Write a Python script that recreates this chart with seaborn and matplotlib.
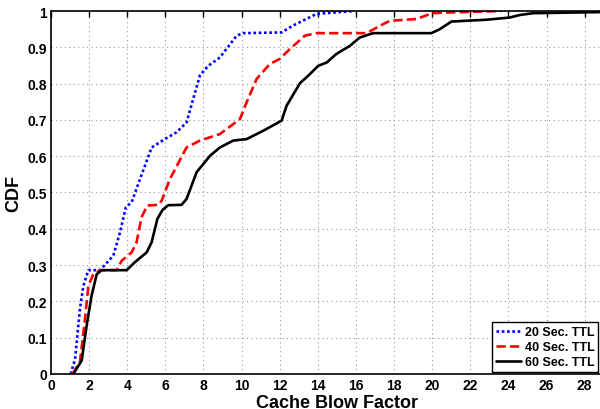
import matplotlib
matplotlib.use("Agg")
import matplotlib.pyplot as plt
import seaborn as sns
import pandas as pd

# --- data ---
ttl20_x = [1.03, 1.26, 1.52, 1.70, 1.96, 2.57, 3.27, 3.62, 3.93, 4.23, 4.67, 5.28, 6.0, 6.59, 7.11,
           7.81, 8.25, 8.86, 9.74, 10.08, 12.1, 12.7, 13.93, 15.85]
ttl20_y = [0.0, 0.04, 0.18, 0.243, 0.286, 0.286, 0.326, 0.39, 0.46, 0.473, 0.537, 0.624, 0.648, 0.666, 0.693,
           0.822, 0.849, 0.872, 0.932, 0.939, 0.941, 0.96, 0.992, 1.0]

ttl40_x = [1.12, 1.52, 1.78, 1.96, 2.22, 2.57, 3.44, 3.71, 4.23, 4.49, 4.75, 5.05, 5.63, 5.80, 6.24,
           7.11, 7.81, 8.86, 9.91, 10.26, 10.79, 11.48, 12.0, 12.53, 13.32, 13.93, 16.55, 17.43, 17.78,
           19.18, 20.0, 20.92, 23.6]
ttl40_y = [0.0, 0.033, 0.15, 0.243, 0.275, 0.286, 0.286, 0.312, 0.335, 0.363, 0.432, 0.464, 0.466, 0.477, 0.537,
           0.624, 0.643, 0.661, 0.702, 0.748, 0.813, 0.854, 0.868, 0.895, 0.932, 0.939, 0.939, 0.964, 0.973,
           0.978, 0.994, 0.996, 1.0]

ttl60_x = [1.17, 1.61, 1.87, 2.13, 2.40, 2.66, 3.97, 4.40, 5.02, 5.28, 5.58, 5.85, 6.15, 6.85, 7.11,
           7.64, 8.34, 8.86, 9.56, 10.26, 11.13, 12.1, 12.36, 13.06, 13.58, 14.02, 14.46, 14.98, 15.68,
           16.2, 16.9, 19.96, 20.4, 21.01, 22.85, 24.07, 24.59, 25.29, 28.8]
ttl60_y = [0.0, 0.037, 0.133, 0.216, 0.275, 0.286, 0.286, 0.308, 0.335, 0.363, 0.427, 0.452, 0.465, 0.466, 0.482,
           0.556, 0.601, 0.624, 0.643, 0.647, 0.670, 0.698, 0.739, 0.801, 0.826, 0.849, 0.858, 0.882, 0.904,
           0.927, 0.939, 0.939, 0.950, 0.971, 0.976, 0.982, 0.989, 0.994, 0.997]

labels = ["20 Sec. TTL", "40 Sec. TTL", "60 Sec. TTL"]
x_ticks = list(range(0, 30, 2))
y_ticks = [0, 0.1, 0.2, 0.3, 0.4, 0.5, 0.6, 0.7, 0.8, 0.9, 1.0]
y_tick_labels = ["0", "0.1", "0.2", "0.3", "0.4", "0.5", "0.6", "0.7", "0.8", "0.9", "1"]

sns.set_theme(style="white")
plt.rcParams["font.family"] = ["Liberation Sans", "DejaVu Sans"]
plt.rcParams["font.weight"] = "bold"
plt.rcParams["text.color"] = "black"
plt.rcParams["axes.labelcolor"] = "black"
plt.rcParams["xtick.color"] = "black"
plt.rcParams["ytick.color"] = "black"

fig = plt.figure(figsize=(6.0, 4.1), dpi=100)
# axes extend slightly past the right edge (reference is cropped there)
ax = fig.add_axes([0.085, 0.0854, 0.953, 0.8853])

series = [(ttl20_x, ttl20_y, labels[0], "blue", (0, (1, 1))),
          (ttl40_x, ttl40_y, labels[1], "red", (0, (3.5, 1.6))),
          (ttl60_x, ttl60_y, labels[2], "black", "-")]
for xs, ys, lab, col, ls in series:
    df = pd.DataFrame({"x": xs, "y": ys})
    sns.lineplot(data=df, x="x", y="y", ax=ax, color=col, linestyle=ls, linewidth=1.9,
                 label=lab, sort=False, estimator=None)

ax.set_xlim(0, 30)
ax.set_ylim(0, 1)
ax.set_xticks(x_ticks)
ax.set_xticklabels([str(t) for t in x_ticks])
ax.set_yticks(y_ticks)
ax.set_yticklabels(y_tick_labels)
ax.tick_params(direction="in", length=4, width=1, top=True, right=True,
               labelsize=10, pad=3, colors="black")
for lbl in ax.get_xticklabels() + ax.get_yticklabels():
    lbl.set_fontweight("bold")
    lbl.set_color("black")
ax.grid(True, linestyle=(0, (1, 3)), color="#999999", linewidth=0.8)
for s in ax.spines.values():
    s.set_color("black")
    s.set_linewidth(1.2)

ax.set_xlabel("Cache Blow Factor", fontsize=13, fontweight="bold", labelpad=1, color="black")
ax.set_ylabel("CDF", fontsize=13, fontweight="bold", labelpad=4, color="black")

leg = ax.legend(loc="lower right", bbox_to_anchor=(0.997, 0.09), bbox_transform=fig.transFigure,
                fontsize=9, frameon=True, fancybox=False, handlelength=2.0, handletextpad=0.3,
                borderpad=0.3, labelspacing=0.25, borderaxespad=0)
leg.get_frame().set_edgecolor("black")
leg.get_frame().set_linewidth(1.0)
leg.get_frame().set_alpha(1)
for t in leg.get_texts():
    t.set_fontweight("bold")
    t.set_color("black")

fig.savefig("out.png", dpi=100)
